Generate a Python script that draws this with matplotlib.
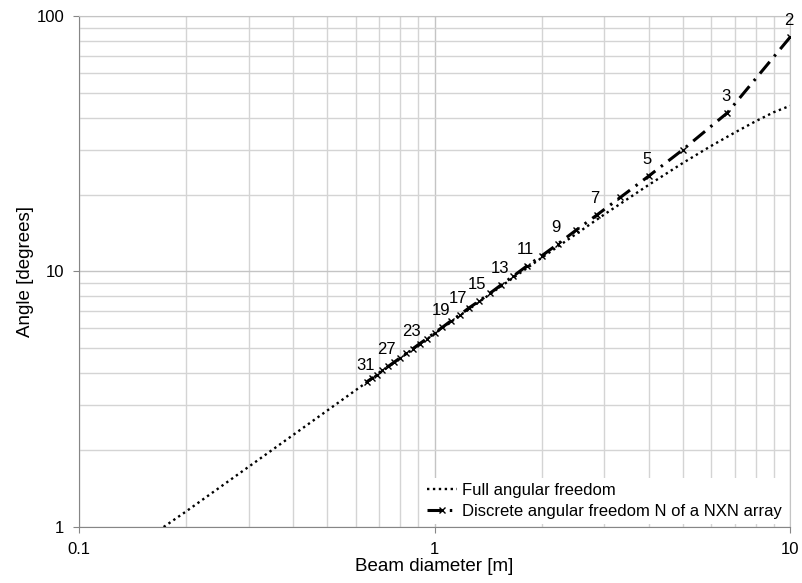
import matplotlib.pyplot as plt
from matplotlib.ticker import LogLocator, NullFormatter, FuncFormatter

plt.rcParams['font.family'] = ['Liberation Sans', 'DejaVu Sans']

# full angular freedom (dotted curve)
full_x = [0.173, 0.2, 0.3, 0.5, 0.7, 1.0, 1.5, 2.0, 3.0, 4.0, 5.0, 6.0, 7.0, 8.0, 9.0, 10.0]
full_y = [1.0, 1.15, 1.72, 2.86, 4.0, 5.71, 8.53, 11.3, 16.7, 21.8, 26.6, 31.0, 35.0, 38.7, 42.0, 44.5]

# discrete angular freedom, N of a NxN array
n_vals = list(range(2, 32))
disc_x = [10.0, 6.667, 5.0, 4.0, 3.333, 2.857, 2.5, 2.222, 2.0, 1.818,
          1.667, 1.538, 1.429, 1.333, 1.25, 1.176, 1.111, 1.053, 1.0, 0.952,
          0.909, 0.870, 0.833, 0.8, 0.769, 0.741, 0.714, 0.690, 0.667, 0.645]
disc_y = [82.5, 41.8, 30.0, 23.6, 19.5, 16.6, 14.5, 12.8, 11.5, 10.5,
          9.6, 8.85, 8.2, 7.65, 7.2, 6.75, 6.4, 6.05, 5.75, 5.46,
          5.22, 4.99, 4.78, 4.59, 4.41, 4.25, 4.1, 3.95, 3.82, 3.7]
labelled = [2, 3, 5, 7, 9, 11, 13, 15, 17, 19, 23, 27, 31]

fig = plt.figure(figsize=(8.03, 5.83), dpi=100)
ax = fig.add_axes([0.0984, 0.0961, 0.8854, 0.8765])

ax.plot(full_x, full_y, color='black', lw=1.7, linestyle=(0, (1, 1.5)),
        label='Full angular freedom', zorder=3)
ax.plot(disc_x, disc_y, color='black', lw=2.2, dashes=(5, 2.3, 0.8, 2.3),
        marker='x', markersize=5, markeredgewidth=1,
        label='Discrete angular freedom N of a NXN array', zorder=4)

for n, xv, yv in zip(n_vals, disc_x, disc_y):
    if n in labelled:
        ax.annotate(str(n), (xv, yv), xytext=(-1, 12), textcoords='offset points',
                    ha='center', va='center', fontsize=12)

ax.set_xscale('log')
ax.set_yscale('log')
ax.set_xlim(0.1, 10)
ax.set_ylim(1, 100)

fmt = FuncFormatter(lambda v, p: f'{v:g}')
ax.xaxis.set_major_formatter(fmt)
ax.yaxis.set_major_formatter(fmt)
ax.xaxis.set_minor_locator(LogLocator(base=10, subs=range(2, 10)))
ax.yaxis.set_minor_locator(LogLocator(base=10, subs=range(2, 10)))
ax.xaxis.set_minor_formatter(NullFormatter())
ax.yaxis.set_minor_formatter(NullFormatter())

ax.grid(True, which='major', color='#c4c4c4', lw=1)
ax.grid(True, which='minor', color='#d4d4d4', lw=1)
ax.set_axisbelow(True)

for s in ['left', 'bottom']:
    ax.spines[s].set_color('#868686')
for s in ['top', 'right']:
    ax.spines[s].set_color('#c4c4c4')

ax.tick_params(which='major', direction='out', length=4.5, color='#868686',
               labelsize=12, pad=6)
ax.tick_params(which='minor', length=0)
ax.tick_params(axis='x', top=False)
ax.tick_params(axis='y', right=False)

ax.set_xlabel('Beam diameter [m]', fontsize=13.5, labelpad=1)
ax.set_ylabel('Angle [degrees]', fontsize=13.5, labelpad=2)

leg = ax.legend(loc='lower right', fontsize=12, frameon=True, fancybox=False,
                edgecolor='white', framealpha=1, handlelength=1.8,
                borderaxespad=0.2, handletextpad=0.3, labelspacing=0.35,
                borderpad=0.3)
leg.get_frame().set_linewidth(0)

fig.savefig('out.png', dpi=100)
